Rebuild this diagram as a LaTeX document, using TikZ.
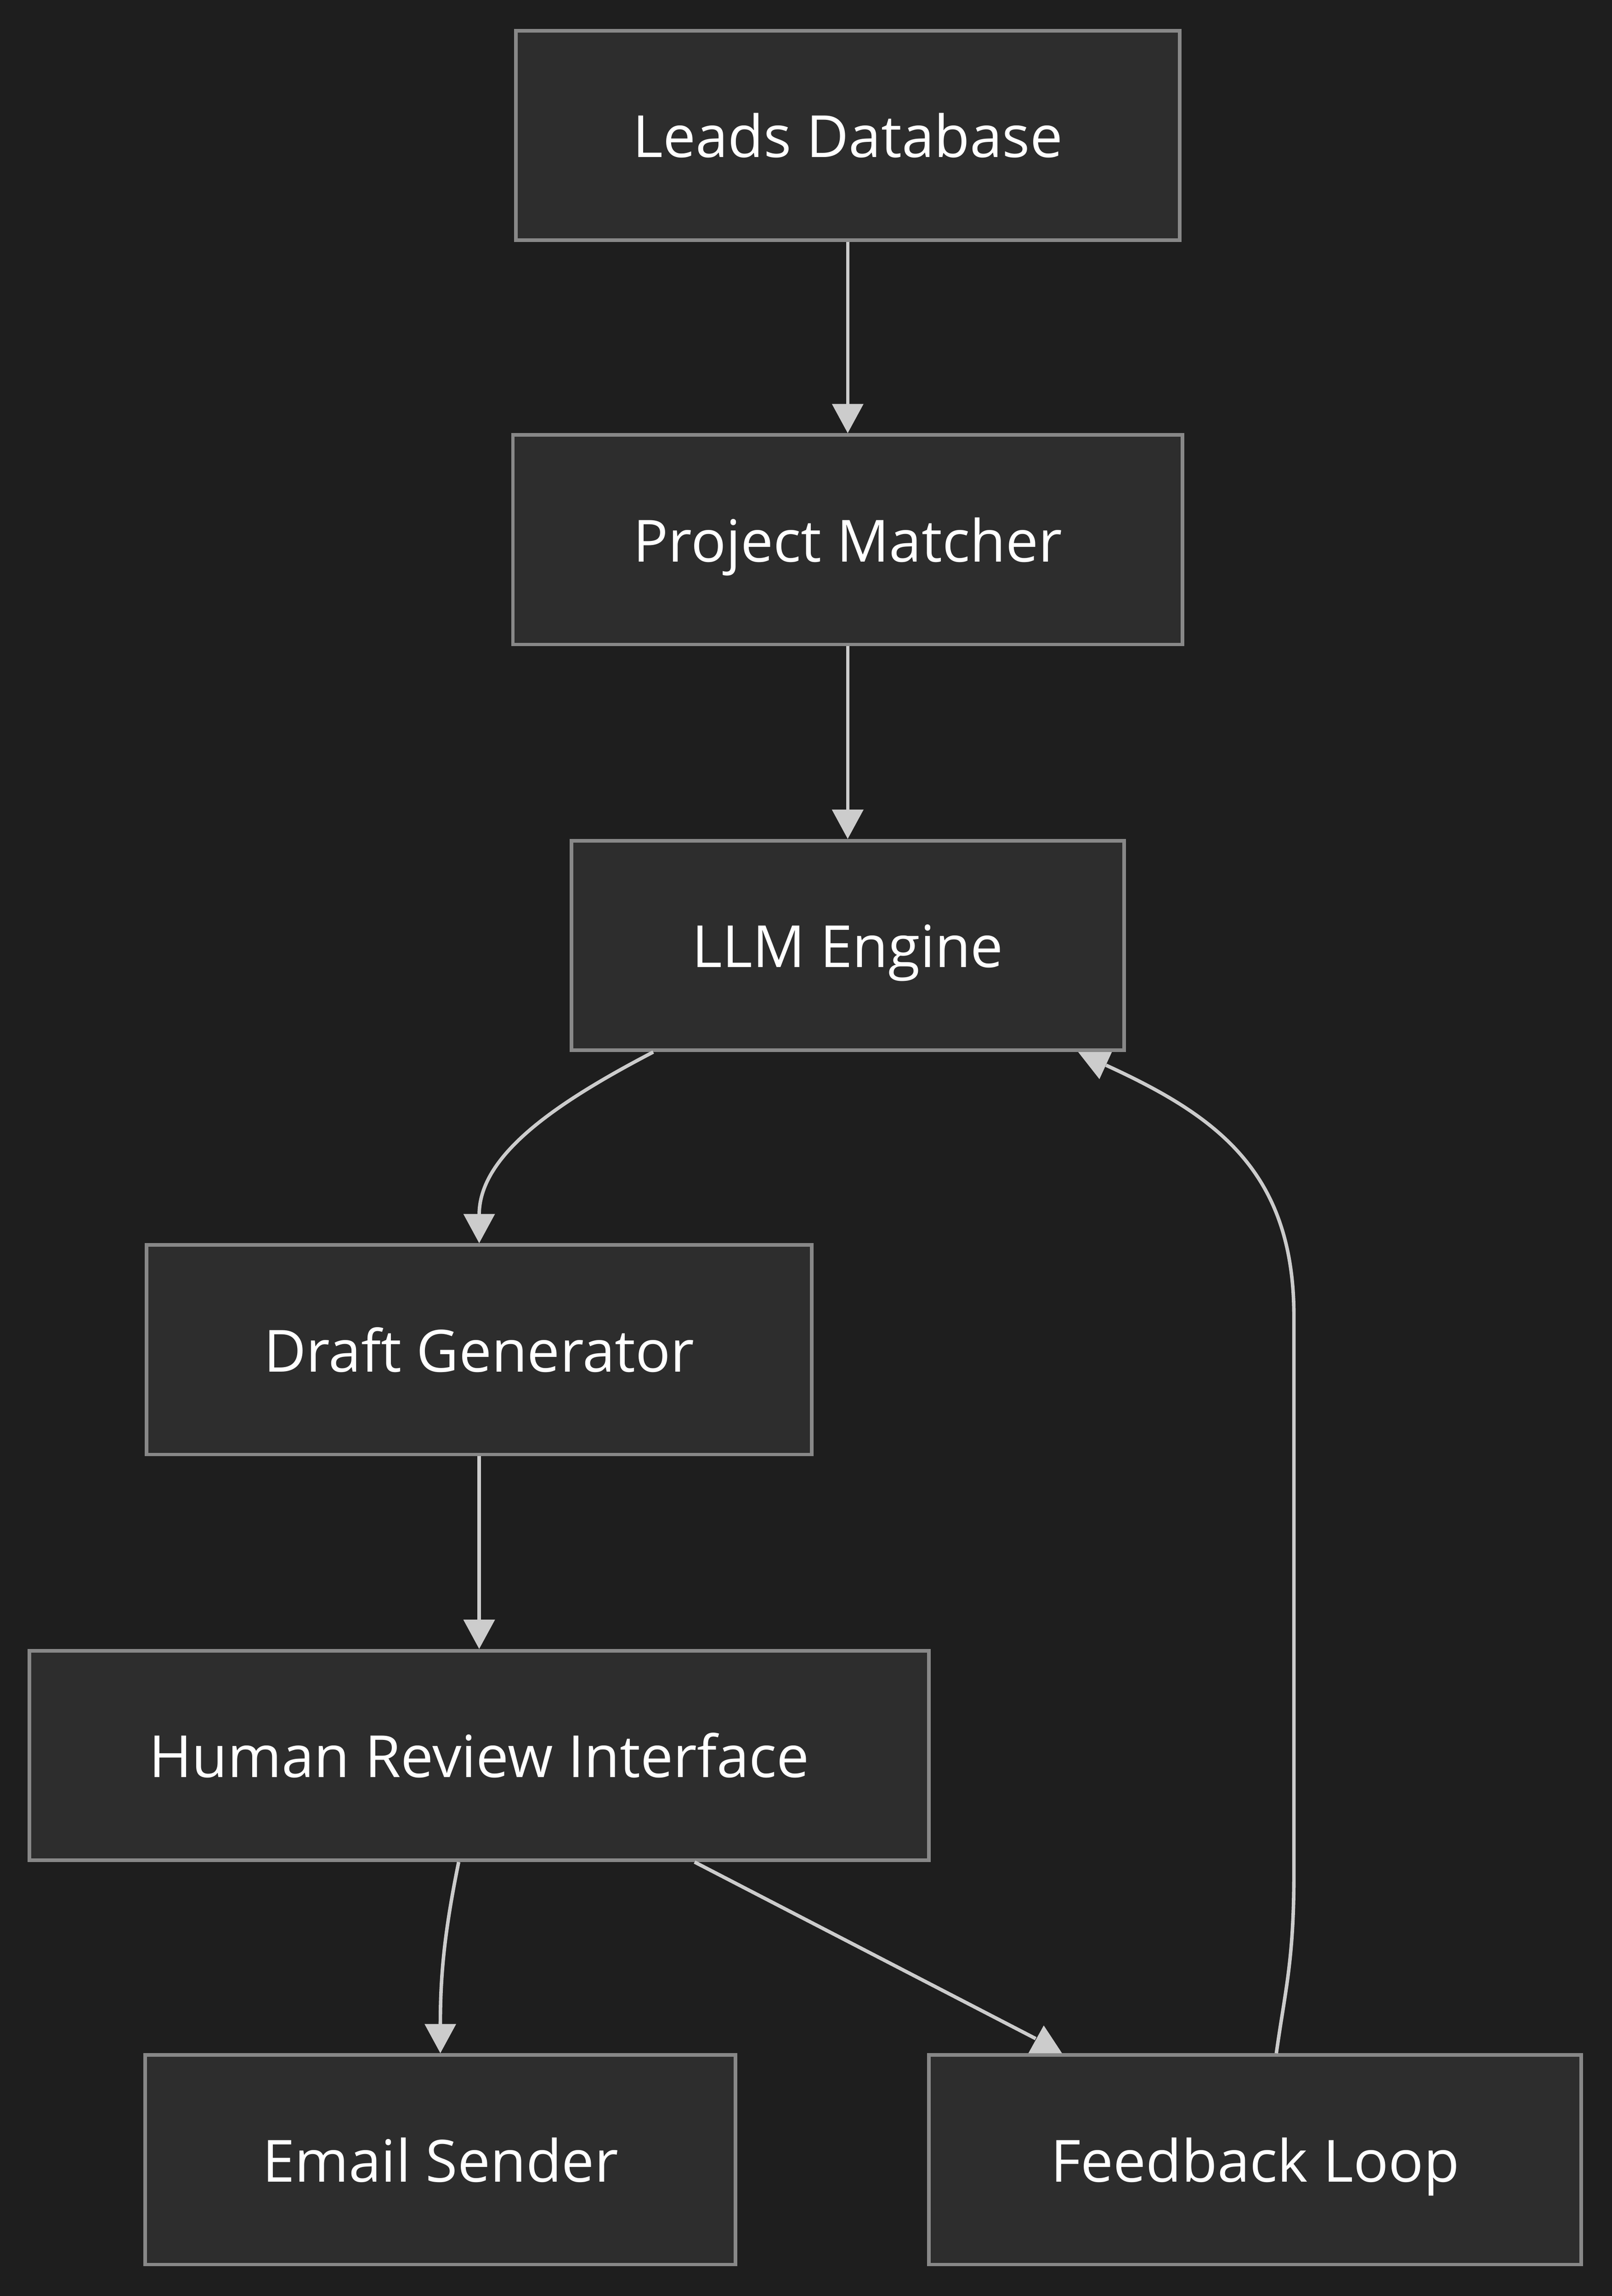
\documentclass[tikz,border=0pt]{standalone}
\usepackage{fontspec}
\setmainfont{Open Sans}
\usetikzlibrary{arrows.meta}
\definecolor{fondo}{HTML}{1E1E1E}
\definecolor{relleno}{HTML}{2D2D2D}
\definecolor{borde}{HTML}{888888}
\definecolor{linea}{HTML}{CCCCCC}
\begin{document}
\begin{tikzpicture}[
		caja/.style={draw=borde, fill=relleno, line width=0.7pt, minimum height=1.43cm, inner xsep=0pt, text=white, font=\fontsize{11.3}{13}\selectfont, text height=0.3cm, text depth=0cm},
		linea gris/.style={draw=linea, line width=0.68pt},
		flecha/.style={linea gris, -{Triangle[width=0.21cm,length=0.2cm]}},
		punta/.style={fill=linea}
	]
		   			% Fondo
		   				\fill[fondo] (0,0) rectangle (11,-15.675);
		   			% Cajas
			   			\node[caja, minimum width=4.53cm] (leads) at (5.785,-0.925) {Leads Database};
			   			\node[caja, minimum width=4.57cm] (matcher) at (5.785,-3.685) {Project Matcher};
			   			\node[caja, minimum width=3.77cm] (llm) at (5.785,-6.455) {LLM Engine};
			   			\node[caja, minimum width=4.54cm] (draft) at (3.27,-9.215) {Draft Generator};
			   			\node[caja, minimum width=6.14cm] (review) at (3.27,-11.985) {Human Review Interface};
			   			\node[caja, minimum width=4.03cm] (email) at (3.005,-14.745) {Email Sender};
			   			\node[caja, minimum width=4.45cm] (feedback) at (8.565,-14.745) {Feedback Loop};
		   			% Flechas
			   			\draw[flecha] (leads) -- (matcher);
			   			\draw[flecha] (matcher) -- (llm);
			   			\draw[flecha] ([xshift=0.57cm]llm.south west) .. controls +(-0.67,-0.35) and +(0,0.6) .. (draft.north);
			   			\draw[flecha] (draft) -- (review);
			   			\draw[flecha] ([xshift=-0.14cm]review.south) .. controls +(-0.1,-0.49) and +(0,0.52) .. (email.north);
			   			\draw[linea gris] ([xshift=1.47cm]review.south) -- ([shift={(0.74,0.1)}]feedback.north west);
			   			\fill[punta] ([xshift=0.69cm]feedback.north west) -- ++(0.23,0) -- ++(-0.125,0.19) -- cycle;
			   			\draw[linea gris] ([xshift=0.145cm]feedback.north) .. controls +(0.06,0.43) and +(0,-0.6) .. ++(0.12,1.23) -- ++(0,3.8) .. controls +(0,1.0) and +(0.74,-0.34) .. ([shift={(3.66,-0.09)}]llm.south west);
			   			\fill[punta] ([xshift=3.47cm]llm.south west) -- ++(0.23,0) -- ++(-0.085,-0.185) -- cycle;
\end{tikzpicture}
\end{document}
